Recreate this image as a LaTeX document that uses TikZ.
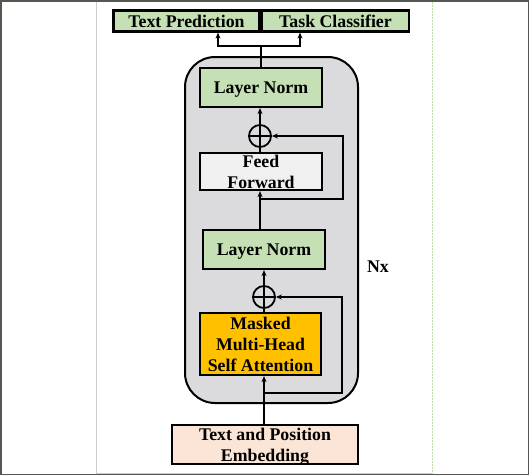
\documentclass[tikz,border=0pt]{standalone}
\usepackage{fontspec}
\setmainfont{Liberation Serif}
\usetikzlibrary{arrows.meta}
\definecolor{lngreen}{RGB}{197,224,180}
\definecolor{contgray}{RGB}{219,219,221}
\definecolor{ffgray}{RGB}{240,240,240}
\definecolor{mhaorange}{RGB}{255,192,0}
\definecolor{embpeach}{RGB}{251,229,214}
\definecolor{framec}{RGB}{85,87,80}
\definecolor{rightline}{RGB}{190,220,170}
\tikzset{
  lbl/.style={font=\fontsize{17.8}{21}\selectfont\bfseries, align=center, text depth=0pt},
  blk/.style={lbl, draw=black, line width=2.2pt, inner sep=0pt},
  conn/.style={line width=2pt, draw=black},
  arr/.style={conn, -{Stealth[length=6pt,width=5pt]}},
  plusnode/.style={circle, draw=black, line width=1.8pt, minimum size=22pt, inner sep=0pt,
    path picture={\draw[line width=1.8pt] (path picture bounding box.north) -- (path picture bounding box.south)
      (path picture bounding box.west) -- (path picture bounding box.east);}}
}
\begin{document}
\begin{tikzpicture}[x=1pt,y=-1pt]
\useasboundingbox (0,0) rectangle (529,475);
% outer frame
\draw[framec, line width=1.5pt] (0.75,0.75) rectangle (528.25,474.25);
\draw[black!20, line width=1pt] (96.5,1.5) -- (96.5,473.5);
\draw[black!20, line width=1.2pt] (96.5,473.5) -- (432.5,473.5);
\draw[rightline, line width=1pt, dashed, dash pattern=on 2pt off 1pt] (432.5,1.5) -- (432.5,473.5);
% container
\node[draw=black, line width=2pt, fill=contgray, rounded corners=30pt, minimum width=173pt, minimum height=346pt, inner sep=0pt] (block) at (271.5,230) {};
% boxes
\node[blk, fill=lngreen, minimum width=146pt, minimum height=21pt] (tp) at (186.5,21) {Text Prediction};
\node[blk, fill=lngreen, minimum width=147pt, minimum height=21pt] (tc) at (335.5,21) {Task Classifier};
\node[blk, fill=lngreen, minimum width=122pt, minimum height=39pt] (ln2) at (261,87.5) {Layer Norm};
\node[blk, fill=ffgray, minimum width=122pt, minimum height=37pt] (ff) at (261,171.5) {Feed\\Forward};
\node[blk, fill=lngreen, minimum width=122pt, minimum height=39pt] (ln1) at (264,249.5) {Layer Norm};
\node[blk, fill=mhaorange, minimum width=121pt, minimum height=62pt] (mha) at (260.5,344) {Masked\\Multi-Head\\Self Attention};
\node[blk, fill=embpeach, minimum width=186pt, minimum height=39pt] (emb) at (265,444.5) {Text and Position\\Embedding};
\node[plusnode] (p2) at (260,136) {};
\node[plusnode] (p1) at (264,297) {};
\node[lbl] (nx) at (378,267) {Nx};
% connectors
\coordinate (s1a) at (264,393);
\coordinate (s1b) at (342,393);
\coordinate (s2a) at (260,199);
\coordinate (s2b) at (343,199);
\coordinate (j) at (261,46);
\draw[arr] (emb.north -| p1) -- (mha.south -| p1);
\draw[conn] (mha.north -| p1) -- (p1.south);
\draw[arr] (p1.north) -- (ln1.south -| p1);
\draw[arr] (s1a) -- (s1b) |- (p1.east);
\draw[arr] (ln1.north -| p2) -- (ff.south -| p2);
\draw[arr] (s2a) -- (s2b) |- (p2.east);
\draw[conn] (ff.north -| p2) -- (p2.south);
\draw[arr] (p2.north) -- (ln2.south -| p2);
\draw[conn] (ln2.north -| j) -- (j);
\draw[arr] (j) -| ([xshift=31.5pt]tp.south);
\draw[arr] (j) -| ([xshift=-35.5pt]tc.south);
\end{tikzpicture}
\end{document}
